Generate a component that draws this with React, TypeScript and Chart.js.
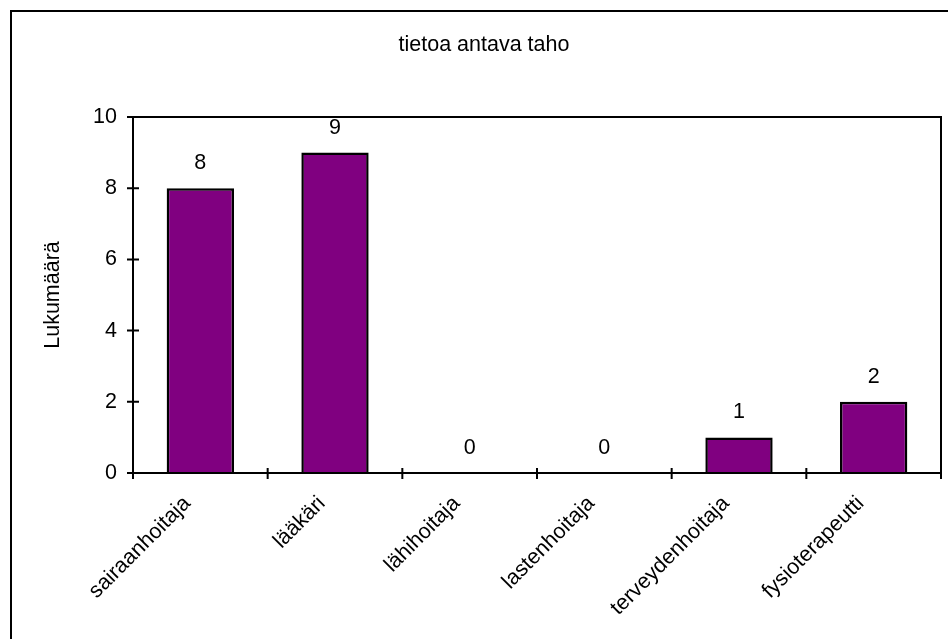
import React, { useEffect, useRef } from "react";
import { Chart, registerables } from "chart.js";

Chart.register(...registerables);

const categories = [
  "sairaanhoitaja",
  "lääkäri",
  "lähihoitaja",
  "lastenhoitaja",
  "terveydenhoitaja",
  "fysioterapeutti",
];
const counts = [8, 9, 0, 0, 1, 2];
const yTicks = [0, 2, 4, 6, 8, 10];
const chartTitle = "tietoa antava taho";
const yAxisTitle = "Lukumäärä";

const FONT = "'Liberation Sans', Arial, sans-serif";
const FONT_SIZE = 21.5;

const decorPlugin = {
  id: "decor",
  beforeDraw(chart: any) {
    const ctx = chart.ctx;
    ctx.save();
    ctx.fillStyle = "#ffffff";
    ctx.fillRect(0, 0, chart.width, chart.height);
    ctx.restore();
  },
  afterDraw(chart: any) {
    const ctx = chart.ctx;
    const a = chart.chartArea;
    const x = chart.scales.x;
    const y = chart.scales.y;
    ctx.save();
    ctx.strokeStyle = "#000000";
    ctx.lineWidth = 2;
    // outer frame
    ctx.strokeRect(11, 11, 946, 640);
    // plot frame: top & right
    ctx.beginPath();
    ctx.moveTo(a.left, a.top);
    ctx.lineTo(a.right, a.top);
    ctx.lineTo(a.right, a.bottom);
    ctx.stroke();
    // axes lines
    ctx.beginPath();
    ctx.moveTo(a.left, a.top);
    ctx.lineTo(a.left, a.bottom);
    ctx.lineTo(a.right, a.bottom);
    ctx.stroke();
    // y tick marks (crossing)
    ctx.beginPath();
    for (const v of yTicks) {
      const py = y.getPixelForValue(v);
      ctx.moveTo(a.left - 6, py);
      ctx.lineTo(a.left + 6, py);
    }
    // x tick marks at category boundaries (crossing)
    for (let i = 0; i <= categories.length; i++) {
      const px = x.getPixelForValue(i - 0.5);
      ctx.moveTo(px, a.bottom - 5);
      ctx.lineTo(px, a.bottom + 6);
    }
    ctx.stroke();

    // data labels
    ctx.fillStyle = "#000000";
    ctx.font = `${FONT_SIZE}px ${FONT}`;
    ctx.textAlign = "center";
    ctx.textBaseline = "middle";
    const meta = chart.getDatasetMeta(0);
    meta.data.forEach((el: any, i: number) => {
      ctx.fillText(String(counts[i]), el.x, el.y - 25);
    });

    // chart title
    ctx.fillText(chartTitle, 484, 45);
    ctx.restore();
  },
};

export default function App() {
  const canvasRef = useRef<HTMLCanvasElement | null>(null);

  useEffect(() => {
    const canvas = canvasRef.current;
    if (!canvas) return;
    const chart = new Chart(canvas, {
      type: "bar",
      data: {
        labels: categories,
        datasets: [
          {
            data: counts,
            backgroundColor: "#800080",
            borderColor: "#000000",
            borderWidth: 2.5,
            barPercentage: 0.5,
            categoryPercentage: 1.0,
          },
        ],
      },
      options: {
        responsive: false,
        animation: false,
        devicePixelRatio: 1,
        layout: { padding: { top: 117, right: 7, left: 0, bottom: 0 } },
        plugins: {
          legend: { display: false },
          tooltip: { enabled: false },
          title: { display: false },
        },
        scales: {
          x: {
            grid: { display: false, drawTicks: false },
            border: { display: false },
            ticks: {
              autoSkip: false,
              maxRotation: 45,
              minRotation: 45,
              padding: 18,
              labelOffset: -13,
              color: "#000000",
              font: { family: FONT, size: FONT_SIZE },
            },
            afterFit(scale: any) {
              scale.height = 166;
            },
          },
          y: {
            min: 0,
            max: 10,
            grid: { display: false, drawTicks: false },
            border: { display: false },
            ticks: {
              stepSize: 2,
              padding: 16,
              color: "#000000",
              font: { family: FONT, size: FONT_SIZE },
            },
            title: {
              display: true,
              text: yAxisTitle,
              color: "#000000",
              font: { family: FONT, size: FONT_SIZE },
              padding: { top: 40, bottom: 0 },
            },
            afterFit(scale: any) {
              scale.width = 133;
            },
          },
        },
      },
      plugins: [decorPlugin],
    });
    return () => chart.destroy();
  }, []);

  return (
    <div style={{ position: "fixed", left: 0, top: 0, width: 948, height: 639, background: "#fff" }}>
      <canvas ref={canvasRef} width={948} height={639} style={{ width: 948, height: 639, display: "block" }} />
    </div>
  );
}
